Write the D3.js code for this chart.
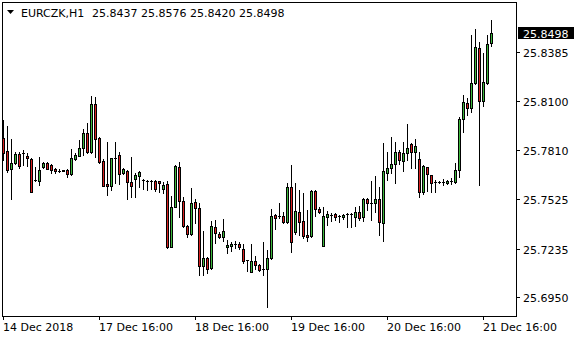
<!DOCTYPE html>
<meta charset="utf-8">
<style>
  body { margin: 0; background: #fff; }
  svg { display: block; }
  text { font-family: "DejaVu Sans", sans-serif; font-size: 11px; fill: #000; }
</style>
<svg width="580" height="340"></svg>
<script src="https://cdnjs.cloudflare.com/ajax/libs/d3/7.8.5/d3.min.js"></script>
<script>

var symbol = "EURCZK,H1";

// hourly bars, 14 Dec 2018 16:00 .. 21 Dec 2018 18:00
var opens = [
  25.7881, 25.7807, 25.7700, 25.7737, 25.7788, 25.7797, 25.7779, 25.7758, 25.7637, 25.7633,
  25.7711, 25.7738, 25.7723, 25.7703, 25.7692, 25.7694, 25.7696, 25.7670, 25.7758, 25.7779,
  25.7823, 25.7911, 25.7803, 25.8082, 25.7881, 25.7748, 25.7612, 25.7604, 25.7764, 25.7783,
  25.7676, 25.7690, 25.7624, 25.7643, 25.7662, 25.7637, 25.7633, 25.7633, 25.7633, 25.7631,
  25.7584, 25.7614, 25.7246, 25.7481, 25.7711, 25.7514, 25.7368, 25.7319, 25.7506, 25.7471,
  25.7133, 25.7178, 25.7120, 25.7360, 25.7321, 25.7301, 25.7243, 25.7250, 25.7260, 25.7262,
  25.7233, 25.7166, 25.7100, 25.7163, 25.7139, 25.7113, 25.7116, 25.7178, 25.7432, 25.7424,
  25.7426, 25.7393, 25.7596, 25.7334, 25.7450, 25.7395, 25.7315, 25.7309, 25.7573, 25.7465,
  25.7252, 25.7422, 25.7434, 25.7436, 25.7426, 25.7419, 25.7436, 25.7436, 25.7422, 25.7448,
  25.7422, 25.7524, 25.7501, 25.7501, 25.7524, 25.7387, 25.7676, 25.7707, 25.7729, 25.7799,
  25.7748, 25.7793, 25.7846, 25.7799, 25.7758, 25.7564, 25.7713, 25.7665, 25.7627, 25.7627,
  25.7624, 25.7618, 25.7633, 25.7627, 25.7696, 25.7995, 25.8086, 25.8061, 25.8203, 25.8408,
  25.8100, 25.8203, 25.8437
];
var highs = [
  25.7988, 25.7953, 25.7875, 25.7803, 25.7803, 25.7813, 25.7795, 25.7766, 25.7713, 25.7770,
  25.7740, 25.7744, 25.7728, 25.7707, 25.7700, 25.7696, 25.7699, 25.7817, 25.7795, 25.7871,
  25.7934, 25.7969, 25.8129, 25.8126, 25.7886, 25.7760, 25.7861, 25.7768, 25.7861, 25.7799,
  25.7709, 25.7696, 25.7770, 25.7680, 25.7690, 25.7643, 25.7637, 25.7637, 25.7635, 25.7633,
  25.7625, 25.7631, 25.7543, 25.7725, 25.7741, 25.7539, 25.7373, 25.7592, 25.7526, 25.7502,
  25.7338, 25.7186, 25.7399, 25.7403, 25.7334, 25.7409, 25.7286, 25.7276, 25.7280, 25.7276,
  25.7262, 25.7168, 25.7262, 25.7189, 25.7147, 25.7276, 25.7227, 25.7467, 25.7438, 25.7501,
  25.7447, 25.7618, 25.7725, 25.7618, 25.7578, 25.7559, 25.7461, 25.7576, 25.7576, 25.7481,
  25.7481, 25.7454, 25.7442, 25.7441, 25.7432, 25.7438, 25.7446, 25.7441, 25.7479, 25.7485,
  25.7529, 25.7529, 25.7631, 25.7660, 25.7598, 25.7856, 25.7801, 25.7891, 25.7860, 25.7813,
  25.7858, 25.7964, 25.7854, 25.7877, 25.7799, 25.7725, 25.7716, 25.7669, 25.7637, 25.7631,
  25.7641, 25.7637, 25.7649, 25.7735, 25.8008, 25.8133, 25.8116, 25.8486, 25.8519, 25.8447,
  25.8379, 25.8486, 25.8576
];
var lows = [
  25.7754, 25.7684, 25.7524, 25.7731, 25.7709, 25.7725, 25.7719, 25.7567, 25.7631, 25.7608,
  25.7709, 25.7701, 25.7678, 25.7680, 25.7682, 25.7688, 25.7653, 25.7668, 25.7754, 25.7778,
  25.7783, 25.7795, 25.7795, 25.7772, 25.7735, 25.7602, 25.7549, 25.7578, 25.7619, 25.7614,
  25.7672, 25.7527, 25.7539, 25.7539, 25.7594, 25.7583, 25.7578, 25.7583, 25.7574, 25.7568,
  25.7559, 25.7239, 25.7242, 25.7476, 25.7422, 25.7360, 25.7305, 25.7315, 25.7385, 25.7081,
  25.7081, 25.7091, 25.7114, 25.7268, 25.7297, 25.7280, 25.7209, 25.7221, 25.7239, 25.7233,
  25.7148, 25.7104, 25.7096, 25.7118, 25.7104, 25.7081, 25.6891, 25.7174, 25.7350, 25.7414,
  25.7383, 25.7385, 25.7217, 25.7321, 25.7315, 25.7296, 25.7282, 25.7301, 25.7428, 25.7444,
  25.7250, 25.7373, 25.7399, 25.7403, 25.7391, 25.7409, 25.7364, 25.7364, 25.7368, 25.7403,
  25.7399, 25.7461, 25.7403, 25.7451, 25.7315, 25.7282, 25.7637, 25.7678, 25.7618, 25.7731,
  25.7687, 25.7754, 25.7709, 25.7706, 25.7539, 25.7557, 25.7574, 25.7567, 25.7568, 25.7622,
  25.7605, 25.7614, 25.7614, 25.7622, 25.7656, 25.7920, 25.8018, 25.8037, 25.8199, 25.7608,
  25.8072, 25.8199, 25.8420
];
var closes = [
  25.7793, 25.7696, 25.7738, 25.7789, 25.7719, 25.7797, 25.7768, 25.7568, 25.7637, 25.7696,
  25.7737, 25.7704, 25.7696, 25.7688, 25.7692, 25.7690, 25.7672, 25.7764, 25.7783, 25.7823,
  25.7911, 25.7803, 25.8082, 25.7875, 25.7744, 25.7604, 25.7604, 25.7764, 25.7764, 25.7672,
  25.7700, 25.7627, 25.7604, 25.7666, 25.7686, 25.7637, 25.7633, 25.7633, 25.7586, 25.7621,
  25.7608, 25.7243, 25.7477, 25.7719, 25.7516, 25.7368, 25.7318, 25.7501, 25.7471, 25.7135,
  25.7178, 25.7114, 25.7368, 25.7328, 25.7301, 25.7338, 25.7256, 25.7264, 25.7260, 25.7245,
  25.7164, 25.7166, 25.7163, 25.7139, 25.7112, 25.7113, 25.7178, 25.7426, 25.7417, 25.7424,
  25.7393, 25.7596, 25.7276, 25.7454, 25.7393, 25.7311, 25.7305, 25.7573, 25.7467, 25.7450,
  25.7426, 25.7436, 25.7434, 25.7422, 25.7426, 25.7432, 25.7436, 25.7436, 25.7448, 25.7413,
  25.7524, 25.7501, 25.7501, 25.7524, 25.7393, 25.7690, 25.7706, 25.7729, 25.7799, 25.7752,
  25.7793, 25.7827, 25.7799, 25.7834, 25.7564, 25.7719, 25.7671, 25.7621, 25.7627, 25.7627,
  25.7624, 25.7632, 25.7633, 25.7696, 25.7993, 25.8091, 25.8061, 25.8203, 25.8418, 25.8100,
  25.8209, 25.8432, 25.8498
];

var yTicks = [25.8385, 25.8100, 25.7810, 25.7525, 25.7235, 25.6950];
var xTickIndex = [0, 24, 48, 72, 96, 120];
var xTickLabels = ["14 Dec 2018", "17 Dec 16:00", "18 Dec 16:00", "19 Dec 16:00", "20 Dec 16:00", "21 Dec 16:00"];

var bullColor = "#3cb83c",
    bearColor = "#d92020";

var svg = d3.select("svg"),
    n = closes.length;

var bars = d3.range(n).map(function(i) {
  return {i: i, o: opens[i], h: highs[i], l: lows[i], c: closes[i]};
});

// one bar every 4px, pixel column 3 + 4*i
var x = d3.scaleLinear().domain([0, n - 1]).range([3, 3 + 4 * (n - 1)]);
var y = d3.scaleLinear().domain([25.6950, 25.8385]).range([297.3, 52.3]);
var py = function(v) { return Math.round(y(v)); };

var plot = svg.append("g").attr("shape-rendering", "crispEdges");

// wicks
plot.selectAll(".wick")
    .data(bars)
  .enter().append("rect")
    .attr("x", function(d) { return x(d.i); })
    .attr("y", function(d) { return py(d.h); })
    .attr("width", 1)
    .attr("height", function(d) { return py(d.l) - py(d.h) + 1; })
    .attr("fill", "#000");

// body outlines (black), doji bars end up as a 1px dash
plot.selectAll(".body")
    .data(bars)
  .enter().append("rect")
    .attr("x", function(d) { return x(d.i) - 1; })
    .attr("y", function(d) { return py(Math.max(d.o, d.c)); })
    .attr("width", 3)
    .attr("height", function(d) { return py(Math.min(d.o, d.c)) - py(Math.max(d.o, d.c)) + 1; })
    .attr("fill", "#000");

// body fill
plot.selectAll(".fill")
    .data(bars.filter(function(d) { return py(Math.min(d.o, d.c)) - py(Math.max(d.o, d.c)) > 1; }))
  .enter().append("rect")
    .attr("x", function(d) { return x(d.i); })
    .attr("y", function(d) { return py(Math.max(d.o, d.c)) + 1; })
    .attr("width", 1)
    .attr("height", function(d) { return py(Math.min(d.o, d.c)) - py(Math.max(d.o, d.c)) - 1; })
    .attr("fill", function(d) { return d.c >= d.o ? bullColor : bearColor; });

// frame
svg.append("rect")
    .attr("x", 2.5).attr("y", 2.5)
    .attr("width", 514).attr("height", 314)
    .attr("fill", "none").attr("stroke", "#000");

// price axis on the right
var yAxis = svg.append("g");
yAxis.selectAll("line")
    .data(yTicks)
  .enter().append("line")
    .attr("x1", 517).attr("x2", 520)
    .attr("y1", function(d) { return py(d) + 0.5; })
    .attr("y2", function(d) { return py(d) + 0.5; })
    .attr("stroke", "#000");
yAxis.selectAll("text")
    .data(yTicks)
  .enter().append("text")
    .attr("x", 523)
    .attr("y", function(d) { return py(d) + 4.5; })
    .text(function(d) { return d.toFixed(4); });

// last price marker
var last = closes[n - 1];
svg.append("rect")
    .attr("x", 518).attr("y", py(last) - 6)
    .attr("width", 56).attr("height", 12)
    .attr("fill", "#000");
svg.append("text")
    .attr("x", 523).attr("y", py(last) + 4.5)
    .style("fill", "#fff")
    .text(last.toFixed(4));

// time axis
var xAxis = svg.append("g");
xAxis.selectAll("line")
    .data(xTickIndex)
  .enter().append("line")
    .attr("x1", function(d) { return x(d) + 0.5; })
    .attr("x2", function(d) { return x(d) + 0.5; })
    .attr("y1", 317).attr("y2", 320)
    .attr("stroke", "#000");
xAxis.selectAll("text")
    .data(xTickIndex)
  .enter().append("text")
    .attr("x", function(d) { return x(d); })
    .attr("y", 331)
    .text(function(d, i) { return xTickLabels[i]; });

// header
svg.append("path")
    .attr("d", "M7,10H14L10.5,14Z")
    .attr("fill", "#000");
svg.append("text")
    .attr("x", 21).attr("y", 16.5)
    .text(symbol);
svg.append("text")
    .attr("x", 92).attr("y", 16.5)
    .text([opens[n - 1], highs[n - 1], lows[n - 1], closes[n - 1]].map(function(v) { return v.toFixed(4); }).join(" "));

</script>
